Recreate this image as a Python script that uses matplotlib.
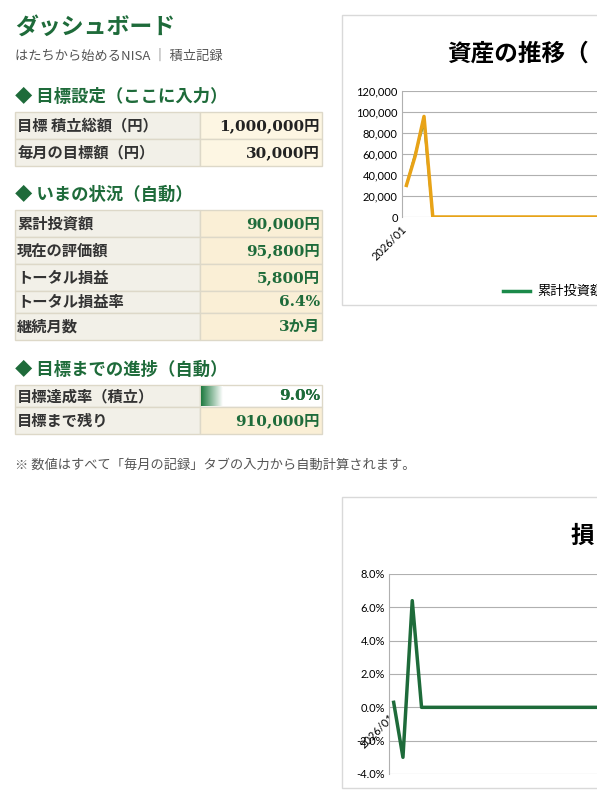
import matplotlib
matplotlib.use("Agg")
import matplotlib.pyplot as plt
import numpy as np
from matplotlib.patches import Rectangle

plt.rcParams['font.family'] = ['Noto Sans CJK JP', 'DejaVu Sans']

# ---- data ----
goal_labels = ["目標 積立総額（円）", "毎月の目標額（円）"]
goal_values = ["1,000,000円", "30,000円"]
status_labels = ["累計投資額", "現在の評価額", "トータル損益", "トータル損益率", "継続月数"]
status_values = ["90,000円", "95,800円", "5,800円", "6.4%", "3か月"]
progress_labels = ["目標達成率（積立）", "目標まで残り"]
progress_values = ["9.0%", "910,000円"]
progress_rate = 0.09

n_months = 60
invested = [30000, 60000, 90000] + [0] * (n_months - 3)
valuation = [30100, 58200, 95800] + [0] * (n_months - 3)
pl_rate = [0.003, -0.030, 0.064] + [0.0] * (n_months - 3)
first_label = "2026/01"
title1 = "資産の推移（"
title2 = "損"
legend1 = "累計投資額"

GREEN = "#1e6b3a"
LINE_GREEN = "#1b8a4a"
ORANGE = "#e8a317"
W, H = 610, 801
CLIP = 597

fig = plt.figure(figsize=(W / 100, H / 100), dpi=100)
ax0 = fig.add_axes([0, 0, 1, 1])
ax0.set_xlim(0, W); ax0.set_ylim(H, 0); ax0.axis("off")

VAL_FONT = ['DejaVu Serif', 'Noto Sans CJK JP']

ax0.text(15, 27, "ダッシュボード", fontsize=16.5, fontweight="bold", color=GREEN, va="center")
ax0.text(15, 56, "はたちから始めるNISA ｜ 積立記録", fontsize=9.5, color="#555555", va="center")

def heading(y, t):
    ax0.text(15, y, "◆ " + t, fontsize=12.5, fontweight="bold", color=GREEN, va="center")

def table(top, heights, labels, values, val_bg, val_color, skip_bg=None):
    y = top
    for i, (h, lab, val) in enumerate(zip(heights, labels, values)):
        ax0.add_patch(Rectangle((15, y), 185, h, fc="#f2f0e8", ec="#ddd8c8", lw=1))
        fc = "white" if skip_bg == i else val_bg
        ax0.add_patch(Rectangle((200, y), 122, h, fc=fc, ec="#ddd8c8", lw=1))
        ax0.text(17, y + h / 2, lab, fontsize=11, fontweight="bold", color="#333333", va="center")
        ax0.text(320, y + h / 2, val, fontsize=11, fontweight="bold", color=val_color,
                 va="center", ha="right", family=VAL_FONT)
        y += h

heading(97, "目標設定（ここに入力）")
table(112, [27, 27], goal_labels, goal_values, "#fdf6e3", "#222222")
heading(195, "いまの状況（自動）")
table(210, [27, 27, 27, 22, 27], status_labels, status_values, "#faefd6", GREEN)
heading(370, "目標までの進捗（自動）")
table(385, [22, 27], progress_labels, progress_values, "#faefd6", GREEN, skip_bg=0)
bar_w = 122 * progress_rate * 2.0
grad = np.linspace(0, 1, 100)[None, :]
cmap = matplotlib.colors.LinearSegmentedColormap.from_list("g", ["#1e7a40", "#ffffff"])
ax0.imshow(grad, cmap=cmap, extent=(201, 201 + bar_w, 406, 386), aspect="auto", zorder=3)
ax0.text(320, 396, progress_values[0], fontsize=11, fontweight="bold", color=GREEN,
         va="center", ha="right", family=VAL_FONT, zorder=4)

ax0.text(15, 465, "※ 数値はすべて「毎月の記録」タブの入力から自動計算されます。", fontsize=9.5,
         color="#555555", va="center")

ax0.add_patch(Rectangle((342, 15), 300, 290, fc="white", ec="#d9d9d9", lw=1))
ax0.add_patch(Rectangle((342, 497), 300, 291, fc="white", ec="#d9d9d9", lw=1))
ax0.text(447, 54, title1, fontsize=17, fontweight="bold", va="center")
ax0.text(571, 536, title2, fontsize=17, fontweight="bold", va="center")
ax0.plot([503, 530], [291, 291], color=LINE_GREEN, lw=2.5)
ax0.text(537, 291, legend1, fontsize=9.5, va="center")

def px_axes(l, t, r, b):
    return fig.add_axes([l / W, 1 - b / H, (r - l) / W, (b - t) / H])

x = np.arange(n_months)
step1 = 8.8
ax1 = px_axes(402, 91, 402 + step1 * n_months, 217)
ax1.plot(x, invested, color=LINE_GREEN, lw=1.5)
ax1.plot(x, valuation, color=ORANGE, lw=2.5)
ax1.set_xlim(-0.5, n_months - 0.5); ax1.set_ylim(0, 120000)
ax1.set_yticks(np.arange(0, 120001, 20000))
ax1.set_yticklabels([f"{v:,}" for v in range(0, 120001, 20000)], fontsize=8, family="Lato")
ax1.yaxis.grid(True, color="#b0b0b0", lw=0.8)
ax1.set_axisbelow(True)
for s in ["top", "right", "bottom"]:
    ax1.spines[s].set_visible(False)
ax1.spines["left"].set_color("#b0b0b0")
ax1.tick_params(length=0, pad=3)
ax1.set_xticks([])
ax0.text(409, 224, first_label, rotation=45, fontsize=8, ha="right", va="top", family="Lato")

step2 = 9.3
ax2 = px_axes(389, 574, 389 + step2 * n_months, 774)
ax2.plot(x, pl_rate, color=GREEN, lw=2.5)
ax2.set_xlim(-0.5, n_months - 0.5); ax2.set_ylim(-0.04, 0.08)
yt = np.arange(-0.04, 0.0801, 0.02)
ax2.set_yticks(yt)
ax2.set_yticklabels([f"{v*100:.1f}%" for v in yt], fontsize=8, family="Lato")
ax2.yaxis.grid(True, color="#b0b0b0", lw=0.8)
ax2.set_axisbelow(True)
for s in ["top", "right", "bottom"]:
    ax2.spines[s].set_visible(False)
ax2.spines["left"].set_color("#b0b0b0")
ax2.tick_params(length=0, pad=3)
ax2.set_xticks([])
ax0.text(397, 712, first_label, rotation=45, fontsize=8, ha="right", va="top", family="Lato")

# white mask: the reference view ends at x=597
mask = fig.add_axes([CLIP / W, 0, 1 - CLIP / W, 1])
mask.set_facecolor("white")
mask.set_xticks([]); mask.set_yticks([])
for s in mask.spines.values():
    s.set_visible(False)

fig.savefig("out.png", dpi=100)
